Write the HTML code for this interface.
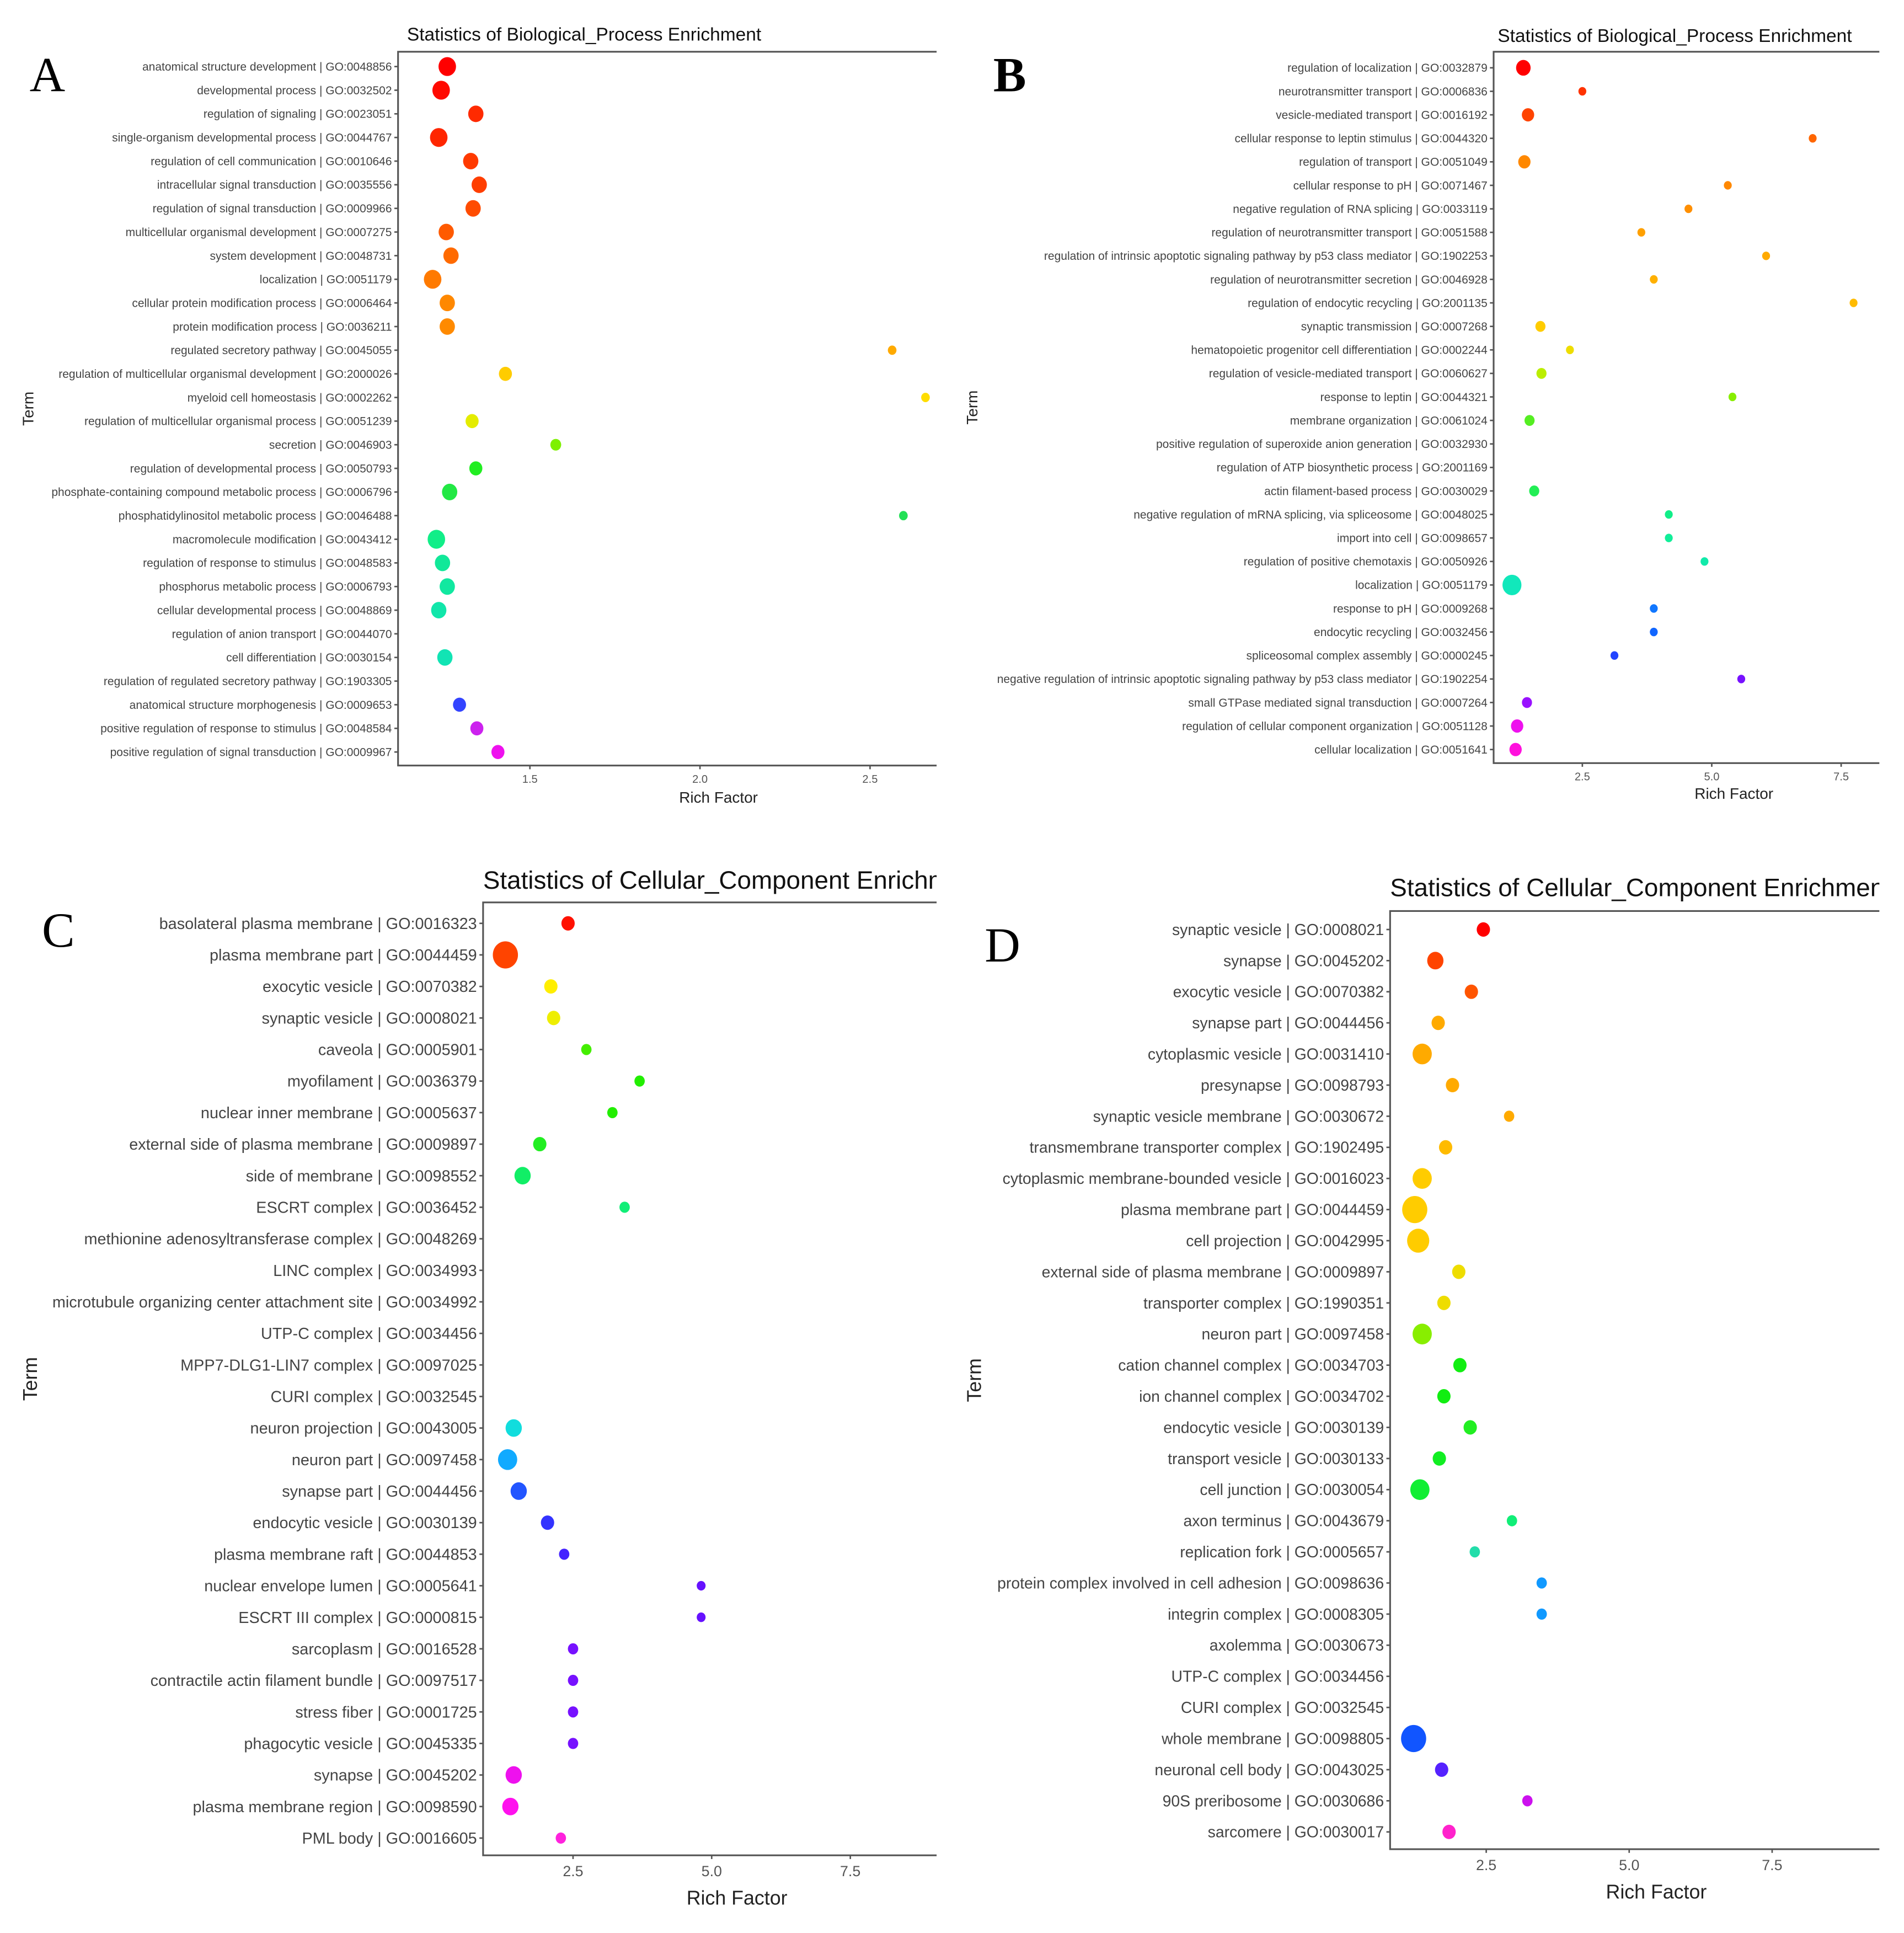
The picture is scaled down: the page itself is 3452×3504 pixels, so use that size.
<!DOCTYPE html>
<html><head><meta charset="utf-8"><style>
html,body{margin:0;padding:0;background:#fff;}
svg{display:block;}
text{font-family:"Liberation Sans",sans-serif;}
</style></head><body>
<svg id="fig" width="3452" height="3504" viewBox="0 0 1545 1568" preserveAspectRatio="none" xmlns="http://www.w3.org/2000/svg">
<rect width="1545" height="1568" fill="#fff"/>
<text x="24" y="74" font-size="40" style="font-family:'Liberation Serif',serif">A</text>
<text x="806" y="74" font-size="40" style="font-family:'Liberation Serif',serif;font-weight:bold">B</text>
<text x="34" y="768" font-size="40" style="font-family:'Liberation Serif',serif">C</text>
<text x="799" y="780" font-size="40" style="font-family:'Liberation Serif',serif">D</text>
</svg>
<script>
// ---- Panel A data ----
const termsA = ["anatomical structure development | GO:0048856","developmental process | GO:0032502","regulation of signaling | GO:0023051","single-organism developmental process | GO:0044767","regulation of cell communication | GO:0010646","intracellular signal transduction | GO:0035556","regulation of signal transduction | GO:0009966","multicellular organismal development | GO:0007275","system development | GO:0048731","localization | GO:0051179","cellular protein modification process | GO:0006464","protein modification process | GO:0036211","regulated secretory pathway | GO:0045055","regulation of multicellular organismal development | GO:2000026","myeloid cell homeostasis | GO:0002262","regulation of multicellular organismal process | GO:0051239","secretion | GO:0046903","regulation of developmental process | GO:0050793","phosphate-containing compound metabolic process | GO:0006796","phosphatidylinositol metabolic process | GO:0046488","macromolecule modification | GO:0043412","regulation of response to stimulus | GO:0048583","phosphorus metabolic process | GO:0006793","cellular developmental process | GO:0048869","regulation of anion transport | GO:0044070","cell differentiation | GO:0030154","regulation of regulated secretory pathway | GO:1903305","anatomical structure morphogenesis | GO:0009653","positive regulation of response to stimulus | GO:0048584","positive regulation of signal transduction | GO:0009967"];
const richA = [1.257,1.239,1.341,1.232,1.326,1.351,1.333,1.254,1.268,1.214,1.257,1.257,2.565,1.428,2.663,1.330,1.576,1.341,1.264,2.598,1.225,1.243,1.257,1.232,null,1.250,null,1.293,1.344,1.406];
const countA = [5,5,4,5,4,4,4,4,4,5,4,4,1,3,1,3,2,3,4,1,5,4,4,4,0,4,0,3,3,3];
const colorA = ["#ff0000","#ff0a00","#ff2a00","#ff2600","#ff3a00","#ff3e00","#ff4c00","#ff5a00","#ff6a00","#ff7a00","#ff8800","#ff8a00","#ffaa00","#ffcc00","#ffdd00","#e4ec00","#7ef000","#22ee22","#22e844","#22e055","#11ee88","#11e899","#11e8a0","#11e6aa","#11e6b0","#11e4b4","#11e4b8","#3344ff","#cc22ee","#ee11ee"];
// ---- Panel B data ----
const termsB = ["regulation of localization | GO:0032879","neurotransmitter transport | GO:0006836","vesicle-mediated transport | GO:0016192","cellular response to leptin stimulus | GO:0044320","regulation of transport | GO:0051049","cellular response to pH | GO:0071467","negative regulation of RNA splicing | GO:0033119","regulation of neurotransmitter transport | GO:0051588","regulation of intrinsic apoptotic signaling pathway by p53 class mediator | GO:1902253","regulation of neurotransmitter secretion | GO:0046928","regulation of endocytic recycling | GO:2001135","synaptic transmission | GO:0007268","hematopoietic progenitor cell differentiation | GO:0002244","regulation of vesicle-mediated transport | GO:0060627","response to leptin | GO:0044321","membrane organization | GO:0061024","positive regulation of superoxide anion generation | GO:0032930","regulation of ATP biosynthetic process | GO:2001169","actin filament-based process | GO:0030029","negative regulation of mRNA splicing, via spliceosome | GO:0048025","import into cell | GO:0098657","regulation of positive chemotaxis | GO:0050926","localization | GO:0051179","response to pH | GO:0009268","endocytic recycling | GO:0032456","spliceosomal complex assembly | GO:0000245","negative regulation of intrinsic apoptotic signaling pathway by p53 class mediator | GO:1902254","small GTPase mediated signal transduction | GO:0007264","regulation of cellular component organization | GO:0051128","cellular localization | GO:0051641"];
const richB = [1.36,2.5,1.45,6.95,1.38,5.31,4.55,3.64,6.05,3.88,7.74,1.69,2.26,1.71,5.4,1.48,null,null,1.57,4.17,4.17,4.86,1.14,3.88,3.88,3.12,5.57,1.43,1.24,1.21];
const countB = [4,1,3,1,3,1,1,1,1,1,1,2,1,2,1,2,0,0,2,1,1,1,6,1,1,1,1,2,3,3];
const colorB = ["#ff0000","#ff3300","#ff4400","#ff6600","#ff8800","#ff8800","#ff8f00","#ffa000","#ffaa00","#ffb000","#ffbb00","#ffcc00","#eedd00","#bbee00","#88ee00","#55ee22","#44ee33","#33ee44","#22ee55","#11ee88","#11ee99","#11eaaa","#11e8bb","#1177ff","#1166ff","#2244ff","#7711ff","#9911ff","#ee11ee","#ff11dd"];
// ---- Panel C data ----
const termsC = ["basolateral plasma membrane | GO:0016323","plasma membrane part | GO:0044459","exocytic vesicle | GO:0070382","synaptic vesicle | GO:0008021","caveola | GO:0005901","myofilament | GO:0036379","nuclear inner membrane | GO:0005637","external side of plasma membrane | GO:0009897","side of membrane | GO:0098552","ESCRT complex | GO:0036452","methionine adenosyltransferase complex | GO:0048269","LINC complex | GO:0034993","microtubule organizing center attachment site | GO:0034992","UTP-C complex | GO:0034456","MPP7-DLG1-LIN7 complex | GO:0097025","CURI complex | GO:0032545","neuron projection | GO:0043005","neuron part | GO:0097458","synapse part | GO:0044456","endocytic vesicle | GO:0030139","plasma membrane raft | GO:0044853","nuclear envelope lumen | GO:0005641","ESCRT III complex | GO:0000815","sarcoplasm | GO:0016528","contractile actin filament bundle | GO:0097517","stress fiber | GO:0001725","phagocytic vesicle | GO:0045335","synapse | GO:0045202","plasma membrane region | GO:0098590","PML body | GO:0016605"];
const richC = [2.41,1.28,2.10,2.15,2.74,3.70,3.21,1.90,1.59,3.43,null,null,null,null,null,null,1.43,1.32,1.52,2.04,2.34,4.81,4.81,2.50,2.50,2.50,2.50,1.43,1.37,2.28];
const countC = [2,6,2,2,1,1,1,2,3,1,0,0,0,0,0,0,3,4,3,2,1,0.5,0.5,1,1,1,1,3,3,1];
const colorC = ["#ff1100","#ff4400","#ffee00","#eeee00","#44ee00","#22ee00","#22ee00","#22ee22","#11ee66","#11ee77","#11ee88","#11ee99","#11eeaa","#11eebb","#11eecc","#11eedd","#11dddd","#11aaff","#2255ff","#3333ff","#4422ff","#6611ff","#6611ff","#7711ff","#7711ff","#7711ff","#7711ff","#ee11ee","#ff11ee","#ff22dd"];
// ---- Panel D data ----
const termsD = ["synaptic vesicle | GO:0008021","synapse | GO:0045202","exocytic vesicle | GO:0070382","synapse part | GO:0044456","cytoplasmic vesicle | GO:0031410","presynapse | GO:0098793","synaptic vesicle membrane | GO:0030672","transmembrane transporter complex | GO:1902495","cytoplasmic membrane-bounded vesicle | GO:0016023","plasma membrane part | GO:0044459","cell projection | GO:0042995","external side of plasma membrane | GO:0009897","transporter complex | GO:1990351","neuron part | GO:0097458","cation channel complex | GO:0034703","ion channel complex | GO:0034702","endocytic vesicle | GO:0030139","transport vesicle | GO:0030133","cell junction | GO:0030054","axon terminus | GO:0043679","replication fork | GO:0005657","protein complex involved in cell adhesion | GO:0098636","integrin complex | GO:0008305","axolemma | GO:0030673","UTP-C complex | GO:0034456","CURI complex | GO:0032545","whole membrane | GO:0098805","neuronal cell body | GO:0043025","90S preribosome | GO:0030686","sarcomere | GO:0030017"];
const richD = [2.45,1.61,2.24,1.66,1.38,1.91,2.90,1.79,1.38,1.25,1.31,2.02,1.76,1.38,2.04,1.76,2.22,1.68,1.34,2.95,2.30,3.47,3.47,null,null,null,1.23,1.72,3.22,1.85];
const countD = [2,3,2,2,4,2,1,2,4,6,5,2,2,4,2,2,2,2,4,1,1,1,1,0,0,0,6,2,1,2];
const colorD = ["#ff0000","#ff4400","#ff5500","#ffaa00","#ffaa00","#ffaa00","#ffaa00","#ffbb00","#ffcc00","#ffcc00","#ffcc00","#eedd00","#eedd00","#88ee00","#11ee11","#11ee11","#22ee22","#11ee22","#11ee33","#11ee77","#22ddaa","#1199ff","#1199ff","#1188ff","#1177ff","#1166ff","#1155ff","#5522ff","#cc11ee","#ff22cc"];
const ticksA = [1.5,2.0,2.5], tickLabA = ["1.5","2.0","2.5"];
const ticksB = [2.5,5.0,7.5], tickLabB = ["2.5","5.0","7.5"];
const ticksC = [2.5,5.0,7.5], tickLabC = ["2.5","5.0","7.5"];
const ticksD = [2.5,5.0,7.5], tickLabD = ["2.5","5.0","7.5"];

const NS = "http://www.w3.org/2000/svg";
const svg = document.getElementById('fig');
function mk(tag, attrs, parent){const e=document.createElementNS(NS,tag);for(const k in attrs)e.setAttribute(k,attrs[k]);(parent||svg).appendChild(e);return e;}

const panels = [
 {id:'a', terms:termsA, rich:richA, count:countA, color:colorA, ticks:ticksA, tl:tickLabA, title:"Statistics of Biological_Process Enrichment",
  x0:323,x1:760,y0:42,y1:621,ty0:54,ty1:610, px0:16, pu:276, fs:9.4, ts:15, titleX:474, titleY:33, rfX:583, rfY:651, rfS:12.5, termX:27, tickFs:9, rk:0.9, r0:2.6},
 {id:'b', terms:termsB, rich:richB, count:countB, color:colorB, ticks:ticksB, tl:tickLabB, title:"Statistics of Biological_Process Enrichment",
  x0:1212,x1:1525,y0:42,y1:619,ty0:55,ty1:608, px0:1179, pu:42, fs:9.4, ts:15, titleX:1359, titleY:34, rfX:1407, rfY:648, rfS:12.5, termX:793, tickFs:9, rk:0.9, r0:2.3},
 {id:'c', terms:termsC, rich:richC, count:countC, color:colorC, ticks:ticksC, tl:tickLabC, title:"Statistics of Cellular_Component Enrichment",
  x0:392,x1:760,y0:732,y1:1505,ty0:749,ty1:1491, px0:352.5, pu:45, fs:12.9, ts:20.5, titleX:392, titleY:721, titleStart:true, rfX:598, rfY:1545, rfS:16, termX:30, tickFs:12, rk:1.2, r0:3.0},
 {id:'d', terms:termsD, rich:richD, count:countD, color:colorD, ticks:ticksD, tl:tickLabD, title:"Statistics of Cellular_Component Enrichment",
  x0:1128,x1:1525,y0:739,y1:1500,ty0:754,ty1:1486, px0:1090, pu:46.4, fs:12.7, ts:20.5, titleX:1128, titleY:727, titleStart:true, rfX:1344, rfY:1540, rfS:16, termX:796, tickFs:12, rk:1.2, r0:3.0}
];

panels.forEach(p=>{
  const g = mk('g',{});
  
  
  const xs = v => p.px0 + v*p.pu;
  const ys = i => p.ty0 + i*(p.ty1-p.ty0)/(p.terms.length-1);
  const cpId='clip-'+p.id;
  const cp=mk('clipPath',{id:cpId},g);
  mk('rect',{x:0,y:p.titleY-30,width:p.x1,height:40},cp);
  const t = mk('text',{x:p.titleX,y:p.titleY,'font-size':p.ts,fill:'#111','text-anchor':p.titleStart?'start':'middle','clip-path':'url(#'+cpId+')'},g);
  t.textContent = p.title;
  
  
  const ax = mk('path',{d:`M${p.x1},${p.y0} H${p.x0} V${p.y1} H${p.x1}`,fill:'none',stroke:'#555','stroke-width':1.4},g);
  
  
  p.terms.forEach((term,i)=>{
    const y=ys(i);
    const tk=mk('line',{x1:p.x0-3,x2:p.x0,y1:y,y2:y,stroke:'#555','stroke-width':1.2},g);
    
    
    const lb=mk('text',{x:p.x0-5,y:y+p.fs*0.35,'font-size':p.fs,fill:'#444','text-anchor':'end'},g);
    lb.textContent=term;
    
    
  });
  p.ticks.forEach((v,i)=>{
    const x=xs(v);
    const tk=mk('line',{x1:x,x2:x,y1:p.y1,y2:p.y1+3,stroke:'#555','stroke-width':1.2},g);
    
    
    const lb=mk('text',{x:x,y:p.y1+p.tickFs+5,'font-size':p.tickFs,fill:'#555','text-anchor':'middle'},g);
    lb.textContent=p.tl[i];
    
    
  });
  const xt=mk('text',{x:p.rfX,y:p.rfY,'font-size':p.rfS,fill:'#222','text-anchor':'middle'},g);
  xt.textContent='Rich Factor';
  
  
  const ym=(p.y0+p.y1)/2;
  const yt=mk('text',{x:p.termX,y:ym,'font-size':p.rfS,fill:'#222','text-anchor':'middle',transform:`rotate(-90 ${p.termX} ${ym})`},g);
  yt.textContent='Term';
  
  
  p.rich.forEach((v,i)=>{
    if(v===null||!p.count[i]) return;
    const c=mk('ellipse',{cx:xs(v),cy:ys(i),rx:p.r0+p.count[i]*p.rk,ry:(p.r0+p.count[i]*p.rk)*1.08,fill:p.color[i]},g);
    
    
  });
});
</script>
</body></html>
